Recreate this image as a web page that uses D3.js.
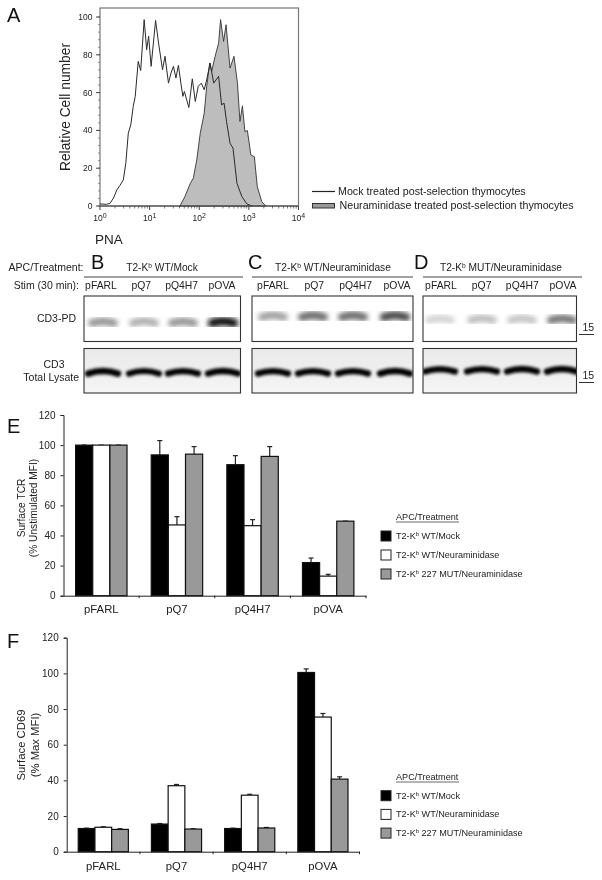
<!DOCTYPE html>
<html><head><meta charset="utf-8">
<script src="https://cdn.jsdelivr.net/npm/d3@7"></script>
<style>
html,body{margin:0;padding:0;background:#fff}
svg{display:block;filter:blur(.4px)}
text{font-family:"Liberation Sans",Arial,sans-serif;fill:#222}
</style></head><body>
<script>
// ---------- Panel A: histogram (log10 PNA, % of max) ----------
const mockLog=[0,.13,.2,.27,.34,.4,.47,.52,.57,.62,.67,.71,.77,.82,.89,.94,.98,1.03,1.12,1.18,1.26,1.31,1.38,1.43,1.48,1.53,1.58,1.63,1.67,1.7,1.79,1.86,1.92,1.98,2.04,2.1,2.15,2.22,2.29,2.39,2.45,2.5,2.55,2.62,2.68,2.76,2.86,2.96,3.06];
const mockPct=[1.1,.9,1.4,4.1,8.5,10.8,13.8,22.6,38.5,42.9,52.7,58,76.5,71.7,98.6,82.7,89.8,73.9,98.2,86.2,72.1,79.2,65,70.3,73.9,67.7,74.4,65,58,60.6,52.1,67.3,55.3,63.3,65,61.5,66.8,75.6,65,68.6,53.5,54.4,44.7,33.2,30.6,12,4.9,1.1,0];
const neuLog=[1.61,1.71,1.82,1.88,1.95,2.02,2.1,2.15,2.21,2.25,2.32,2.39,2.43,2.49,2.54,2.62,2.7,2.77,2.82,2.87,2.92,2.97,3.04,3.11,3.17,3.26,3.34];
const neuPct=[0,4.9,12,14.7,24.4,38.5,49.1,63.3,75.6,71.2,79.2,86.2,98.6,87.1,95.9,73,79.2,65,44.7,53,39.4,39.9,27,26.1,10.2,2.3,0];
const histLegend=["Mock treated post-selection thymocytes","Neuraminidase treated post-selection thymocytes"];

// ---------- Blots: relative band intensity ----------
const stimuli=["pFARL","pQ7","pQ4H7","pOVA"];
const blotTitles=["T2-K|b| WT/Mock","T2-K|b| WT/Neuraminidase","T2-K|b| MUT/Neuraminidase"];
const blotLetters=["B","C","D"];
const pdIntensity=[[.42,.32,.42,.95],[.38,.58,.58,.72],[.18,.26,.24,.55]];
const lysateIntensity=[[1,.88,.92,.95],[.92,.92,.92,.98],[.92,.92,.96,1]];

// ---------- Bar charts ----------
const categories=["pFARL","pQ7","pQ4H7","pOVA"];
const seriesNames=["T2-K|b| WT/Mock","T2-K|b| WT/Neuraminidase","T2-K|b| 227 MUT/Neuraminidase"];
const tcrMock=[100,93.5,87,22], tcrNeu=[100,47,46.5,13], tcrMut=[100,94,92.5,49.5];
const tcrMockErr=[0,9.5,6,3], tcrNeuErr=[0,5.5,4,1.2], tcrMutErr=[0,5,6.5,0];
const cd69Mock=[13,15.5,13,100.5], cd69Neu=[13.7,37,31.7,75.5], cd69Mut=[12.5,12.7,13.3,40.7];
const cd69MockErr=[.2,.3,.2,2], cd69NeuErr=[.3,.7,.5,2], cd69MutErr=[.4,.2,.3,1.3];
const barTicks=[0,20,40,60,80,100,120];
const seriesColors=["#000","#fff","#999"];

const svg=d3.select("body").append("svg").attr("width",602).attr("height",880);
const defs=svg.append("defs");
defs.append("filter").attr("id","blur").attr("x","-40%").attr("y","-200%").attr("width","180%").attr("height","500%")
  .append("feGaussianBlur").attr("stdDeviation",2.4);
defs.append("filter").attr("id","blur2").attr("x","-30%").attr("y","-200%").attr("width","160%").attr("height","500%")
  .append("feGaussianBlur").attr("stdDeviation",1.4);
const grad=defs.append("linearGradient").attr("id","lysBg").attr("x1",0).attr("x2",0).attr("y1",0).attr("y2",1);
grad.append("stop").attr("offset","0%").attr("stop-color","#eaeaea");
grad.append("stop").attr("offset","60%").attr("stop-color","#f0f0f0");
grad.append("stop").attr("offset","100%").attr("stop-color","#f6f6f6");

function letter(t,x,y){svg.append("text").attr("x",x).attr("y",y).attr("font-size",20).style("fill","#111").text(t);}
function kbText(sel,s){
  const p=s.split("|");
  sel.append("tspan").text(p[0]);
  sel.append("tspan").attr("dy",-3).attr("font-size","65%").text(p[1]);
  sel.append("tspan").attr("dy",3).text(p[2]);
}

// ---------- A ----------
letter("A",7,22);
const hx=d3.scaleLinear().domain([0,4]).range([100,298.5]);
const hy=d3.scaleLinear().domain([0,100]).range([206,17]);
const gA=svg.append("g");
gA.append("rect").attr("x",100).attr("y",8).attr("width",198.5).attr("height",198).attr("fill","none").attr("stroke","#777").attr("stroke-width",1.2);
const neu=neuLog.map((d,i)=>[d,neuPct[i]]), mock=mockLog.map((d,i)=>[d,mockPct[i]]);
gA.append("path").datum(neu).attr("fill","#bdbdbd").attr("stroke","#333").attr("stroke-width",.9)
  .attr("d",d3.area().x(d=>hx(d[0])).y0(hy(0)).y1(d=>hy(d[1])));
gA.append("path").datum(mock).attr("fill","none").attr("stroke","#2a2a2a").attr("stroke-width",1)
  .attr("d",d3.line().x(d=>hx(d[0])).y(d=>hy(d[1])));
gA.append("line").attr("x1",100).attr("x2",298.5).attr("y1",206).attr("y2",206).attr("stroke","#444").attr("stroke-width",1.2);
const minorX=[];
d3.range(0,4).forEach(k=>d3.range(2,10).forEach(m=>minorX.push(k+Math.log10(m))));
gA.selectAll(".mx").data(minorX).join("line").attr("x1",hx).attr("x2",hx).attr("y1",206).attr("y2",208.5).attr("stroke","#444").attr("stroke-width",.7);
gA.selectAll(".Mx").data(d3.range(0,5)).join("line").attr("x1",hx).attr("x2",hx).attr("y1",206).attr("y2",210).attr("stroke","#444");
const xl=gA.selectAll(".xl").data(d3.range(0,5)).join("text").attr("x",hx).attr("y",221).attr("text-anchor","middle").attr("font-size",8.5);
xl.append("tspan").text("10");
xl.append("tspan").attr("dy",-3).attr("font-size",7).text(d=>d);
gA.selectAll(".my").data(d3.range(0,101,4)).join("line").attr("x1",98).attr("x2",100).attr("y1",hy).attr("y2",hy).attr("stroke","#555").attr("stroke-width",.6);
gA.selectAll(".My").data(d3.range(0,101,20)).join("line").attr("x1",96).attr("x2",100).attr("y1",hy).attr("y2",hy).attr("stroke","#444");
gA.selectAll(".yl").data(d3.range(0,101,20)).join("text").attr("x",92.5).attr("y",d=>hy(d)+3).attr("text-anchor","end").attr("font-size",8.5).text(d=>d);
svg.append("text").attr("transform","translate(70,107) rotate(-90)").attr("text-anchor","middle").attr("font-size",13.8).text("Relative Cell number");
svg.append("text").attr("x",95).attr("y",243.5).attr("font-size",13.5).text("PNA");
svg.append("line").attr("x1",312).attr("x2",335).attr("y1",191.5).attr("y2",191.5).attr("stroke","#222").attr("stroke-width",1.2);
svg.append("rect").attr("x",312.5).attr("y",203.5).attr("width",22).attr("height",4.5).attr("fill","#999").attr("stroke","#333");
svg.append("text").attr("x",338).attr("y",195).attr("font-size",10.7).text(histLegend[0]);
svg.append("text").attr("x",339.5).attr("y",209).attr("font-size",10.7).text(histLegend[1]);

// ---------- Blots ----------
const blotX=[[84,240.5],[252,413],[423,576.5]];
const titleLineX=[[84,243],[252,413],[423,582]];
const bandX=[[103,144,183,223],[273,313,353,395],[440,482,522,562]];
const pdY=[322,316,319], lysY=[372,372,370];
const titleX=[162,333,501], letterX=[91,248,414];
const fs=10.5;
svg.append("text").attr("x",83.5).attr("y",271).attr("text-anchor","end").attr("font-size",fs).text("APC/Treatment:");
svg.append("text").attr("x",79).attr("y",289).attr("text-anchor","end").attr("font-size",fs).text("Stim (30 min):");
svg.append("text").attr("x",76).attr("y",322).attr("text-anchor","end").attr("font-size",fs).text("CD3-PD");
svg.append("text").attr("x",54).attr("y",368).attr("text-anchor","middle").attr("font-size",fs).text("CD3");
svg.append("text").attr("x",79).attr("y",381).attr("text-anchor","end").attr("font-size",fs).text("Total Lysate");

blotX.forEach((bx,i)=>{
  const g=svg.append("g");
  const w=bx[1]-bx[0];
  letter(blotLetters[i],letterX[i],269);
  g.append("text").attr("x",titleX[i]).attr("y",271).attr("text-anchor","middle").attr("font-size",10.2).call(kbText,blotTitles[i]);
  g.append("line").attr("x1",titleLineX[i][0]).attr("x2",titleLineX[i][1]).attr("y1",277).attr("y2",277).attr("stroke","#444").attr("stroke-width",1);
  const labelX=d3.scalePoint().domain(stimuli).range(i===0?[101,222]:i===1?[273,397]:[441,563]);
  g.selectAll(".st").data(stimuli).join("text").attr("x",d=>labelX(d)).attr("y",289).attr("text-anchor","middle").attr("font-size",10.4).text(d=>d);
  const id="clip"+i;
  const cp=defs.append("clipPath").attr("id",id);
  cp.append("rect").attr("x",bx[0]).attr("y",296).attr("width",w).attr("height",45.5);
  cp.append("rect").attr("x",bx[0]).attr("y",348.5).attr("width",w).attr("height",44.5);
  const inner=g.append("g").attr("clip-path",`url(#${id})`);
  inner.append("rect").attr("x",bx[0]).attr("y",349).attr("width",w).attr("height",44).attr("fill","url(#lysBg)");
  const arch=(cx,cy,hw,rise)=>`M${cx-hw},${cy+rise*.45} Q${cx},${cy-rise} ${cx+hw},${cy+rise*.45}`;
  inner.selectAll(".pd").data(pdIntensity[i]).join("path")
    .attr("d",(d,j)=>arch(bandX[i][j],pdY[i],11,2.5))
    .attr("fill","none").attr("stroke-linecap","round")
    .attr("stroke",d=>d3.interpolateRgb("#fff","#000")(d))
    .attr("stroke-width",d=>7+d*1.5)
    .attr("filter","url(#blur)");
  inner.append("line").attr("x1",bx[0]).attr("x2",bx[1]).attr("y1",lysY[i]+2).attr("y2",lysY[i]+2)
    .attr("stroke","#444").attr("stroke-width",2.5).attr("filter","url(#blur2)");
  inner.selectAll(".ly").data(lysateIntensity[i]).join("path")
    .attr("d",(d,j)=>arch(bandX[i][j],lysY[i],15,3.5))
    .attr("fill","none").attr("stroke","#000").attr("stroke-linecap","round")
    .attr("stroke-width",d=>3.5+d*3)
    .attr("filter","url(#blur2)");
  g.append("rect").attr("x",bx[0]).attr("y",296).attr("width",w).attr("height",45.5).attr("fill","none").attr("stroke","#333").attr("stroke-width",1.1);
  g.append("rect").attr("x",bx[0]).attr("y",348.5).attr("width",w).attr("height",44.5).attr("fill","none").attr("stroke","#333").attr("stroke-width",1.1);
});
[331,379].forEach(ty=>{
  svg.append("text").attr("x",582.5).attr("y",ty).attr("font-size",10.5).text("15");
  svg.append("line").attr("x1",579).attr("x2",594).attr("y1",ty+3.5).attr("y2",ty+3.5).attr("stroke","#333");
});

// ---------- Bars ----------
function barChart(o){
  const g=svg.append("g");
  const x=d3.scaleBand().domain(categories).range([o.x0,o.x1]).paddingInner(o.pi).paddingOuter(o.pi/2);
  const xs=d3.scaleBand().domain(d3.range(3)).range([0,x.bandwidth()]);
  const y=d3.scaleLinear().domain([0,120]).range([o.y0,o.y120]);
  o.vals.forEach((vals,s)=>{
    const sg=g.append("g");
    const cx=i=>x(categories[i])+xs(s)+xs.bandwidth()/2;
    sg.selectAll("line.e").data(vals).join("line").attr("x1",(d,i)=>cx(i)).attr("x2",(d,i)=>cx(i))
      .attr("y1",d=>y(d)).attr("y2",(d,i)=>y(d+o.errs[s][i])).attr("stroke","#222").attr("stroke-width",1.2);
    sg.selectAll("line.c").data(vals).join("line").attr("x1",(d,i)=>cx(i)-2.5).attr("x2",(d,i)=>cx(i)+2.5)
      .attr("y1",(d,i)=>y(d+o.errs[s][i])).attr("y2",(d,i)=>y(d+o.errs[s][i])).attr("stroke","#222").attr("stroke-width",1.2);
    sg.selectAll("rect").data(vals).join("rect").attr("x",(d,i)=>x(categories[i])+xs(s)).attr("width",xs.bandwidth())
      .attr("y",d=>y(d)).attr("height",d=>o.y0-y(d)).attr("fill",seriesColors[s]).attr("stroke","#111").attr("stroke-width",1.2);
  });
  const ya=d3.axisLeft(y).tickValues(barTicks).tickSize(3).tickFormat(d3.format("d"));
  const ag=g.append("g").attr("transform",`translate(${o.x0},0)`).call(ya);
  ag.selectAll("text").attr("font-size",10).style("font-family",'"Liberation Sans",Arial,sans-serif').attr("dx",-2);
  ag.selectAll("line,path").attr("stroke","#222");
  const xa=d3.axisBottom(x).tickSize(0);
  const xg=g.append("g").attr("transform",`translate(0,${o.y0})`).call(xa);
  xg.select("path").attr("stroke","#222").attr("stroke-width",1);
  xg.selectAll("text").attr("font-size",11.3).attr("y",o.labelDy).style("font-family",'"Liberation Sans",Arial,sans-serif');
  g.selectAll(".bt").data(d3.range(1,5)).join("line").attr("x1",i=>o.x0+i*(o.x1-o.x0)/4).attr("x2",i=>o.x0+i*(o.x1-o.x0)/4)
    .attr("y1",o.y0).attr("y2",o.y0+2.5).attr("stroke","#222");
  svg.append("text").attr("transform",`translate(${o.t1},${o.titleY}) rotate(-90)`).attr("text-anchor","middle").attr("font-size",o.tfs).text(o.title[0]);
  svg.append("text").attr("transform",`translate(${o.t2},${o.titleY}) rotate(-90)`).attr("text-anchor","middle").attr("font-size",o.tfs).text(o.title[1]);
  const lg=svg.append("g");
  lg.append("text").attr("x",396).attr("y",o.legY).attr("font-size",9.1).text("APC/Treatment");
  lg.append("line").attr("x1",396).attr("x2",459).attr("y1",o.legY+2).attr("y2",o.legY+2).attr("stroke","#444").attr("stroke-width",.8);
  seriesNames.forEach((n,s)=>{
    const yy=o.legY+o.legStep*(s+1);
    lg.append("rect").attr("x",381).attr("y",yy-8).attr("width",10).attr("height",10).attr("fill",seriesColors[s]).attr("stroke","#222");
    lg.append("text").attr("x",396).attr("y",yy).attr("font-size",9.1).call(kbText,n);
  });
}
letter("E",7,433);
barChart({x0:63.5,x1:366,y0:595.7,y120:415,pi:.32,labelDy:9.5,vals:[tcrMock,tcrNeu,tcrMut],errs:[tcrMockErr,tcrNeuErr,tcrMutErr],
  title:["Surface TCR","(% Unstimulated MFI)"],t1:25,t2:37,titleY:508,tfs:10.2,legY:520,legStep:19});
letter("F",7,648);
barChart({x0:66.7,x1:359.5,y0:851.7,y120:637.7,pi:.315,labelDy:10,vals:[cd69Mock,cd69Neu,cd69Mut],errs:[cd69MockErr,cd69NeuErr,cd69MutErr],
  title:["Surface CD69","(% Max MFI)"],t1:25,t2:39,titleY:745,tfs:11.3,legY:780,legStep:18.7});
</script>
</body></html>
